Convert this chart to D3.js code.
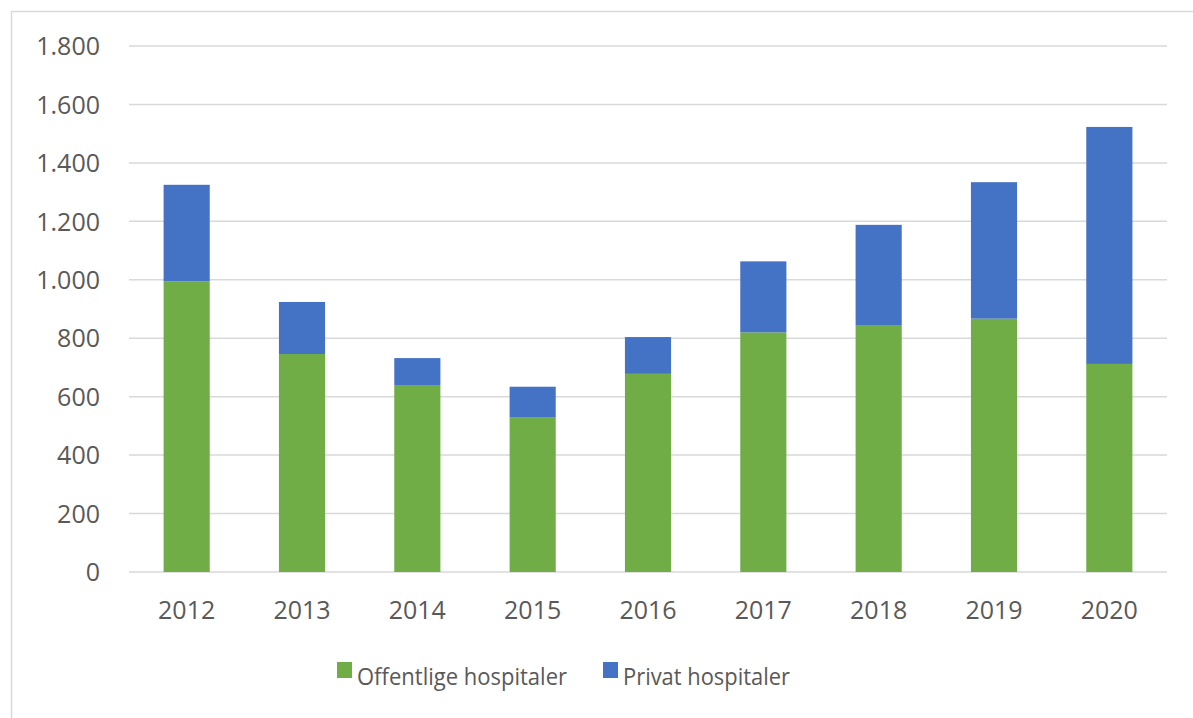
<!DOCTYPE html>
<html><head><meta charset="utf-8">
<script src="https://cdn.jsdelivr.net/npm/d3@7"></script>
<style>body{margin:0;background:#fff;}svg{display:block;}</style>
</head><body>
<svg id="c" width="1193" height="718"></svg>
<script>
const years = ["2012","2013","2014","2015","2016","2017","2018","2019","2020"];
const offentlige = [995, 746, 640, 530, 678, 820, 843, 867, 712];
const privat = [330, 178, 92, 104, 126, 243, 345, 467, 811];
const seriesNames = ["Offentlige hospitaler", "Privat hospitaler"];
const seriesColors = ["#70AD47", "#4472C4"];
const yTicks = [0, 200, 400, 600, 800, 1000, 1200, 1400, 1600, 1800];

(function() {
const svg = d3.select("#c");
const font = "'Open Sans', sans-serif";
const textColor = "#595959";

svg.append("rect").attr("x", 11.5).attr("y", 11.5).attr("width", 1300).attr("height", 800)
  .attr("fill", "#fff").attr("stroke", "#d9d9d9").attr("stroke-width", 1.5);

const pLeft = 129, pRight = 1167, pTop = 46, pBottom = 572;
const x = d3.scaleBand().domain(years).range([pLeft, pRight]).paddingInner(0.6).paddingOuter(0.3);
const y = d3.scaleLinear().domain([0, 1800]).range([pBottom, pTop]);

// gridlines
svg.append("g").selectAll("line").data(yTicks).join("line")
  .attr("x1", pLeft).attr("x2", pRight)
  .attr("y1", d => y(d)).attr("y2", d => y(d))
  .attr("stroke", "#d9d9d9").attr("stroke-width", 1.5);

// y axis labels
const fmt = d => d3.format(",")(d).replace(/,/g, ".");
const yAxis = d3.axisLeft(y).tickValues(yTicks).tickFormat(fmt).tickSize(0).tickPadding(0);
const gy = svg.append("g").attr("transform", "translate(100,0)").call(yAxis);
gy.select(".domain").remove();
gy.selectAll("text").attr("font-family", font).attr("font-size", 25).attr("fill", textColor).attr("dy", "0.35em");

// stacked data
const data = years.map((yr, i) => ({year: yr, off: offentlige[i], priv: privat[i]}));
const stack = d3.stack().keys(["off", "priv"])(data);

svg.append("g").selectAll("g").data(stack).join("g")
  .attr("fill", (d, i) => seriesColors[i])
  .selectAll("rect").data(d => d).join("rect")
  .attr("x", d => x(d.data.year))
  .attr("width", x.bandwidth())
  .attr("y", d => y(d[1]))
  .attr("height", d => y(d[0]) - y(d[1]));

// x axis labels
const xAxis = d3.axisBottom(x).tickSize(0).tickPadding(0);
const gx = svg.append("g").attr("transform", "translate(0,610)").call(xAxis);
gx.select(".domain").remove();
gx.selectAll("text").attr("font-family", font).attr("font-size", 25).attr("fill", textColor).attr("dy", "0.35em");

// legend
const legendItems = [{x: 337, name: seriesNames[0], color: seriesColors[0], w: 210}, {x: 603, name: seriesNames[1], color: seriesColors[1], w: 167}];
const lg = svg.append("g").selectAll("g").data(legendItems).join("g")
  .attr("transform", d => `translate(${d.x},662)`);
lg.append("rect").attr("width", 15).attr("height", 16).attr("fill", d => d.color);
lg.append("text").attr("x", 20).attr("y", 15).attr("dy", "0.35em")
  .attr("font-family", font).attr("font-size", 24).attr("fill", textColor)
  .attr("textLength", d => d.w).attr("lengthAdjust", "spacingAndGlyphs")
  .text(d => d.name);
})();
</script>
</body></html>
